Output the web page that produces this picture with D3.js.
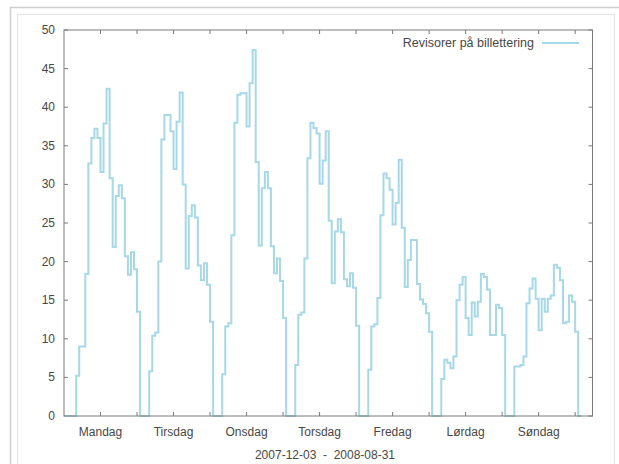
<!DOCTYPE html>
<html>
<head>
<meta charset="utf-8">
<script src="https://cdn.jsdelivr.net/npm/d3@7"></script>
<style>
  html, body { margin: 0; padding: 0; background: #fff; }
  svg { display: block; }
  text { font-family: "Liberation Sans", Arial, sans-serif; fill: #474747; white-space: pre; }
</style>
</head>
<body>
<svg id="chart" width="619" height="464"></svg>
<script>
// ---- data ----
const dayLabels = ["Mandag", "Tirsdag", "Onsdag", "Torsdag", "Fredag", "Lørdag", "Søndag"];
const seriesName = "Revisorer på billettering";
const subtitle = "2007-12-03  -  2008-08-31";
const firstHour = 4; // values below start at 04:00 and run through 24:00 (next 00:00)
const mandag  = [5.2, 9.0, 9.0, 18.4, 32.7, 36.0, 37.2, 36.0, 31.6, 37.9, 42.4, 30.8, 21.9, 28.5, 29.9, 28.2, 20.7, 18.3, 21.2, 19.0, 13.5];
const tirsdag = [5.8, 10.4, 10.8, 20.0, 35.8, 39.0, 39.0, 36.9, 32.0, 38.1, 41.9, 30.0, 19.1, 25.9, 27.3, 25.7, 19.5, 17.6, 19.8, 17.0, 12.2];
const onsdag  = [5.4, 11.6, 12.0, 23.4, 38.0, 41.6, 41.8, 41.8, 37.5, 43.1, 47.4, 32.9, 22.1, 29.5, 31.6, 29.5, 22.0, 18.5, 20.4, 17.5, 12.7];
const torsdag = [6.6, 13.1, 13.4, 20.4, 33.4, 38.0, 37.3, 36.6, 30.1, 33.1, 36.9, 25.3, 17.2, 23.9, 25.5, 23.8, 17.7, 16.8, 18.5, 16.6, 11.7];
const fredag  = [6.0, 11.6, 11.9, 15.3, 26.0, 31.4, 30.8, 29.3, 24.8, 27.6, 33.2, 24.4, 16.7, 20.2, 22.8, 22.8, 17.1, 15.1, 14.5, 13.3, 10.9];
const lordag  = [4.8, 7.3, 6.9, 6.2, 7.7, 15.0, 17.0, 18.0, 12.7, 10.5, 14.7, 12.9, 14.8, 18.4, 18.0, 16.4, 10.5, 10.5, 14.4, 14.0, 10.5];
const sondag  = [6.4, 6.4, 6.6, 7.7, 14.6, 16.5, 17.8, 15.2, 11.1, 15.2, 13.5, 15.2, 15.6, 19.6, 19.2, 17.6, 12.0, 12.2, 15.6, 14.8, 10.9];
const dayValues = [mandag, tirsdag, onsdag, torsdag, fredag, lordag, sondag];
const yTicks = [0, 5, 10, 15, 20, 25, 30, 35, 40, 45, 50];
const xTicks = d3.range(12, 169, 12);
const labelHours = [12, 36, 60, 84, 108, 132, 156];

// build hour-of-week series
const pts = [];
for (let h = 0; h < firstHour; h++) pts.push({x: h, y: 0});
dayValues.forEach((vals, d) => {
  vals.forEach((v, i) => pts.push({x: d * 24 + firstHour + i, y: v}));
  const next = (d + 1) * 24 + 1;
  for (let h = next; h < (d + 1) * 24 + firstHour; h++) pts.push({x: h, y: 0});
});
const series = pts.filter(p => p.x <= 169);
series.push({x: 170, y: 0});

// ---- layout ----
const svg = d3.select("#chart");
const L = 64, R = 592.5, T = 30, B = 416;

// outer frames
svg.append("rect").attr("x", 10.5).attr("y", 7.5).attr("width", 640).attr("height", 480)
  .attr("fill", "none").attr("stroke", "#cfcfcf").attr("stroke-width", 1.5);
svg.append("rect").attr("x", 17.5).attr("y", 14.5).attr("width", 597).attr("height", 480)
  .attr("fill", "none").attr("stroke", "#e2e2e2").attr("stroke-width", 1);

const x = d3.scaleLinear().domain([0, 173.7]).range([L, R]);
const y = d3.scaleLinear().domain([0, 50]).range([B, T]);

const tickLen = 4;
const axisColor = "#7a7a7a";

// ticks (all four sides, inward)
const g = svg.append("g");
g.selectAll(".yt").data(yTicks).join("line")
  .attr("x1", L).attr("x2", L + tickLen).attr("y1", d => y(d)).attr("y2", d => y(d))
  .attr("stroke", axisColor);
g.selectAll(".yt2").data(yTicks).join("line")
  .attr("x1", R).attr("x2", R - tickLen).attr("y1", d => y(d)).attr("y2", d => y(d))
  .attr("stroke", axisColor);
g.selectAll(".xt").data(xTicks).join("line")
  .attr("x1", d => x(d)).attr("x2", d => x(d)).attr("y1", B).attr("y2", B - tickLen)
  .attr("stroke", axisColor);
g.selectAll(".xt2").data(xTicks).join("line")
  .attr("x1", d => x(d)).attr("x2", d => x(d)).attr("y1", T).attr("y2", T + tickLen)
  .attr("stroke", axisColor);

// y labels
svg.selectAll(".yl").data(yTicks).join("text")
  .attr("x", L - 9).attr("y", d => y(d) + 4)
  .attr("text-anchor", "end").attr("font-size", 12)
  .text(d => d);

// x labels
svg.selectAll(".xl").data(labelHours).join("text")
  .attr("x", d => x(d)).attr("y", B + 20)
  .attr("text-anchor", "middle").attr("font-size", 12)
  .text((d, i) => dayLabels[i]);

svg.append("text").attr("x", 325).attr("y", 459)
  .attr("text-anchor", "middle").attr("font-size", 12).text(subtitle);

// line
const lineColor = "#a6d8e7";
const line = d3.line().x(d => x(d.x)).y(d => y(d.y)).curve(d3.curveStepAfter);
svg.append("path").datum(series).attr("d", line)
  .attr("fill", "none").attr("stroke", lineColor).attr("stroke-width", 2);

// legend
svg.append("text").attr("x", 534).attr("y", 47)
  .attr("text-anchor", "end").attr("font-size", 12.5).text(seriesName);
svg.append("line").attr("x1", 542).attr("x2", 579).attr("y1", 43).attr("y2", 43)
  .attr("stroke", lineColor).attr("stroke-width", 2);

// border
svg.append("rect").attr("x", L).attr("y", T).attr("width", R - L).attr("height", B - T)
  .attr("fill", "none").attr("stroke", axisColor).attr("stroke-width", 1);
</script>
</body>
</html>
